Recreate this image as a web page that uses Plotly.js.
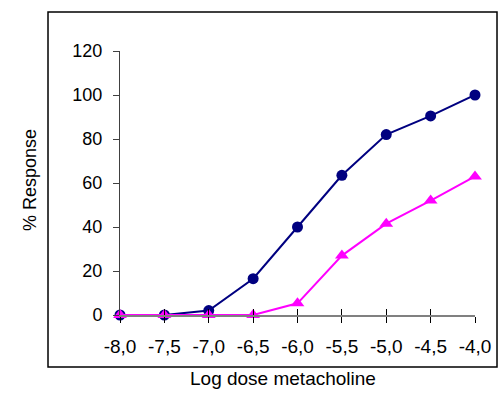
<!DOCTYPE html>
<html><head><meta charset="utf-8">
<script src="https://cdn.plot.ly/plotly-3.0.1.min.js"></script>
<style>html,body{margin:0;padding:0;background:#fff}#c{width:500px;height:401px}</style>
</head><body><div id="c"></div>
<script>
const logDose = [-8.0, -7.5, -7.0, -6.5, -6.0, -5.5, -5.0, -4.5, -4.0];
const seriesA = [0, 0, 2, 16.5, 40, 63.5, 82, 90.5, 100];
const seriesB = [0, 0, 0, 0, 5.3, 27, 41.5, 52, 63];
const xTickVals = [-8, -7.5, -7, -6.5, -6, -5.5, -5, -4.5, -4];
const xTickText = ['-8,0','-7,5','-7,0','-6,5','-6,0','-5,5','-5,0','-4,5','-4,0'];
const yTickVals = [0, 20, 40, 60, 80, 100, 120];

const FAM = 'Liberation Sans, Arial, sans-serif';
const traces = [
  {x: logDose, y: seriesA, mode: 'lines+markers', cliponaxis: false,
   line: {color: '#000080', width: 2}, marker: {symbol: 'circle', size: 11, color: '#000080'}},
  {x: logDose, y: seriesB, mode: 'lines+markers', cliponaxis: false,
   line: {color: '#FF00FF', width: 2}, marker: {symbol: 'triangle-up', size: 12, color: '#FF00FF'}},
  {x: [], y: [], xaxis: 'x2', yaxis: 'y', showlegend: false}
];
const layout = {
  width: 500, height: 401, showlegend: false,
  paper_bgcolor: '#fff', plot_bgcolor: '#fff',
  margin: {l: 120, r: 25, t: 51, b: 86},
  font: {family: FAM, size: 18, color: '#000'},
  xaxis: {range: [-8, -4], tickvals: xTickVals, ticktext: xTickText,
    showgrid: false, zeroline: false, showline: true, linecolor: '#808080', linewidth: 2,
    ticks: 'outside', ticklen: 6, tickcolor: '#000', tickwidth: 1,
    tickfont: {family: FAM, size: 19, color: '#000'}, ticklabelstandoff: 7},
  xaxis2: {range: [-8, -4], tickvals: xTickVals, overlaying: 'x', showticklabels: false,
    showgrid: false, zeroline: false, showline: false, ticks: 'inside', ticklen: 6, tickcolor: '#000', tickwidth: 1, anchor: 'y'},
  yaxis: {range: [0, 120], tickvals: yTickVals, showgrid: false, zeroline: false,
    showline: true, linecolor: '#404040', linewidth: 1,
    ticks: 'outside', ticklen: 6, tickcolor: '#404040', tickwidth: 1,
    tickfont: {family: FAM, size: 18, color: '#000'}, ticklabelstandoff: 7},
  shapes: [{type: 'rect', xref: 'paper', yref: 'paper', x0: -0.2028, x1: 1.062, y0: -0.197, y1: 1.1477,
    line: {color: '#000', width: 1.5}, fillcolor: 'rgba(0,0,0,0)', layer: 'below'}],
  annotations: [
    {text: '% Response', xref: 'paper', yref: 'paper', x: (18-120)/355, y: (315-233)/264,
     showarrow: false, textangle: -90, font: {family: FAM, size: 18, color: '#000'}},
    {text: 'Log dose metacholine', xref: 'paper', yref: 'paper', x: (283-120)/355, y: (315-391)/264,
     showarrow: false, font: {family: FAM, size: 19, color: '#000'}}
  ]
};
Plotly.newPlot('c', traces, layout, {staticPlot: true});
</script></body></html>
